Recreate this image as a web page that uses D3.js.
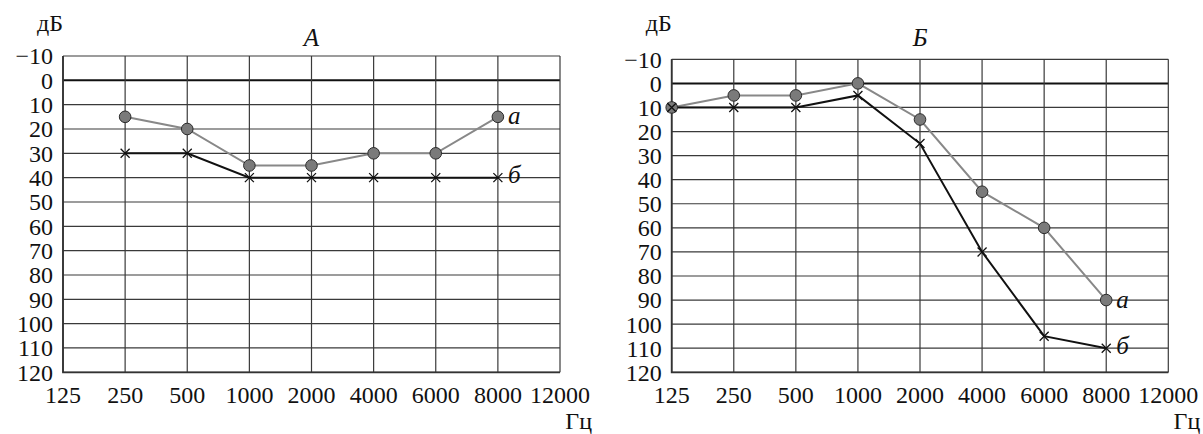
<!DOCTYPE html>
<html>
<head>
<meta charset="utf-8">
<script src="https://cdn.jsdelivr.net/npm/d3@7/dist/d3.min.js"></script>
<style>
  body { margin: 0; background: #fff; }
</style>
</head>
<body>
<svg id="chart" width="1203" height="434" font-family="'Liberation Serif', 'Times New Roman', serif"></svg>
<script>
// ---- data ----
var freqs = ["125", "250", "500", "1000", "2000", "4000", "6000", "8000", "12000"];
var dbTicks = [-10, 0, 10, 20, 30, 40, 50, 60, 70, 80, 90, 100, 110, 120];

// panel A
var freqsA = ["250", "500", "1000", "2000", "4000", "6000", "8000"];
var seriesA_a = [15, 20, 35, 35, 30, 30, 15];
var seriesA_b = [30, 30, 40, 40, 40, 40, 40];

// panel Б
var freqsB = ["125", "250", "500", "1000", "2000", "4000", "6000", "8000"];
var seriesB_a = [10, 5, 5, 0, 15, 45, 60, 90];
var seriesB_b = [10, 10, 10, 5, 25, 70, 105, 110];

var svg = d3.select("#chart");
var txtColor = "#111";

function drawPanel(opt) {
  var g = svg.append("g");
  var x = d3.scalePoint().domain(freqs).range([opt.left, opt.right]);
  var y = d3.scaleLinear().domain([-10, 120]).range([opt.top, opt.bottom]);

  // grid
  g.selectAll("line.h").data(dbTicks).enter().append("line")
    .attr("x1", opt.left).attr("x2", opt.right)
    .attr("y1", function(d) { return y(d); })
    .attr("y2", function(d) { return y(d); })
    .attr("stroke", function(d) { return d == 0 ? "#111" : "#3a3a3a"; })
    .attr("stroke-width", function(d) { return d == 0 ? 2 : 1.2; });

  g.selectAll("line.v").data(freqs).enter().append("line")
    .attr("x1", function(d) { return x(d); })
    .attr("x2", function(d) { return x(d); })
    .attr("y1", opt.top).attr("y2", opt.bottom)
    .attr("stroke", "#3a3a3a")
    .attr("stroke-width", 1.2);

  // outer frame, left + bottom a bit heavier
  g.append("path")
    .attr("d", "M" + opt.left + "," + opt.top + "V" + opt.bottom + "H" + opt.right)
    .attr("fill", "none").attr("stroke", "#333").attr("stroke-width", 1.8);

  // y tick labels
  g.selectAll("text.yt").data(dbTicks).enter().append("text")
    .attr("x", opt.left - 10)
    .attr("y", function(d) { return y(d); })
    .attr("dy", "0.35em")
    .attr("text-anchor", "end")
    .attr("fill", txtColor)
    .style("font-size", "24px")
    .text(function(d) { return d < 0 ? "\u2212" + Math.abs(d) : d; });

  // x tick labels
  g.selectAll("text.xt").data(freqs).enter().append("text")
    .attr("x", function(d) { return x(d); })
    .attr("y", 403)
    .attr("text-anchor", "middle")
    .attr("fill", txtColor)
    .style("font-size", "24px")
    .text(function(d) { return d; });

  g.append("text")
    .attr("x", opt.left).attr("y", 31)
    .attr("text-anchor", "end")
    .attr("fill", txtColor)
    .style("font-size", "24px")
    .text("дБ");

  g.append("text")
    .attr("x", opt.right + 32).attr("y", 429)
    .attr("text-anchor", "end")
    .attr("fill", txtColor)
    .style("font-size", "24px")
    .text("Гц");

  g.append("text")
    .attr("x", x("2000")).attr("y", 46)
    .attr("text-anchor", "middle")
    .attr("fill", txtColor)
    .style("font-size", "25px")
    .style("font-style", "italic")
    .text(opt.title);

  var line = d3.line()
    .x(function(d) { return x(d.f); })
    .y(function(d) { return y(d.v); });

  var dataA = opt.fr.map(function(f, i) { return { f: f, v: opt.a[i] }; });
  var dataB = opt.fr.map(function(f, i) { return { f: f, v: opt.b[i] }; });

  g.append("path").datum(dataA).attr("d", line)
    .attr("fill", "none").attr("stroke", "#888").attr("stroke-width", 2);
  g.append("path").datum(dataB).attr("d", line)
    .attr("fill", "none").attr("stroke", "#111").attr("stroke-width", 2);

  g.selectAll("circle.m").data(dataA).enter().append("circle")
    .attr("cx", function(d) { return x(d.f); })
    .attr("cy", function(d) { return y(d.v); })
    .attr("r", 5.8)
    .attr("fill", "#7a7a7a")
    .attr("stroke", "#2a2a2a")
    .attr("stroke-width", 1);

  var cr = 4.5;
  var crosses = g.selectAll("g.cross").data(dataB).enter().append("g")
    .attr("transform", function(d) { return "translate(" + x(d.f) + "," + y(d.v) + ")"; });
  crosses.append("path")
    .attr("d", "M" + (-cr) + "," + (-cr) + "L" + cr + "," + cr + "M" + (-cr) + "," + cr + "L" + cr + "," + (-cr))
    .attr("stroke", "#111").attr("stroke-width", 1.3);

  // series labels
  var lastA = dataA[dataA.length - 1], lastB = dataB[dataB.length - 1];
  g.append("text")
    .attr("x", x(lastA.f) + 10).attr("y", y(lastA.v)).attr("dy", "0.3em")
    .attr("fill", txtColor)
    .style("font-size", "25px").style("font-style", "italic")
    .text("a");
  g.append("text")
    .attr("x", x(lastB.f) + 10).attr("y", y(lastB.v) - 2).attr("dy", "0.3em")
    .attr("fill", txtColor)
    .style("font-size", "25px").style("font-style", "italic")
    .text("б");
}

drawPanel({ left: 63, right: 560, top: 56, bottom: 372.3, title: "A",
            fr: freqsA, a: seriesA_a, b: seriesA_b });
drawPanel({ left: 671.7, right: 1168.3, top: 59.3, bottom: 372.3, title: "Б",
            fr: freqsB, a: seriesB_a, b: seriesB_b });
</script>
</body>
</html>
